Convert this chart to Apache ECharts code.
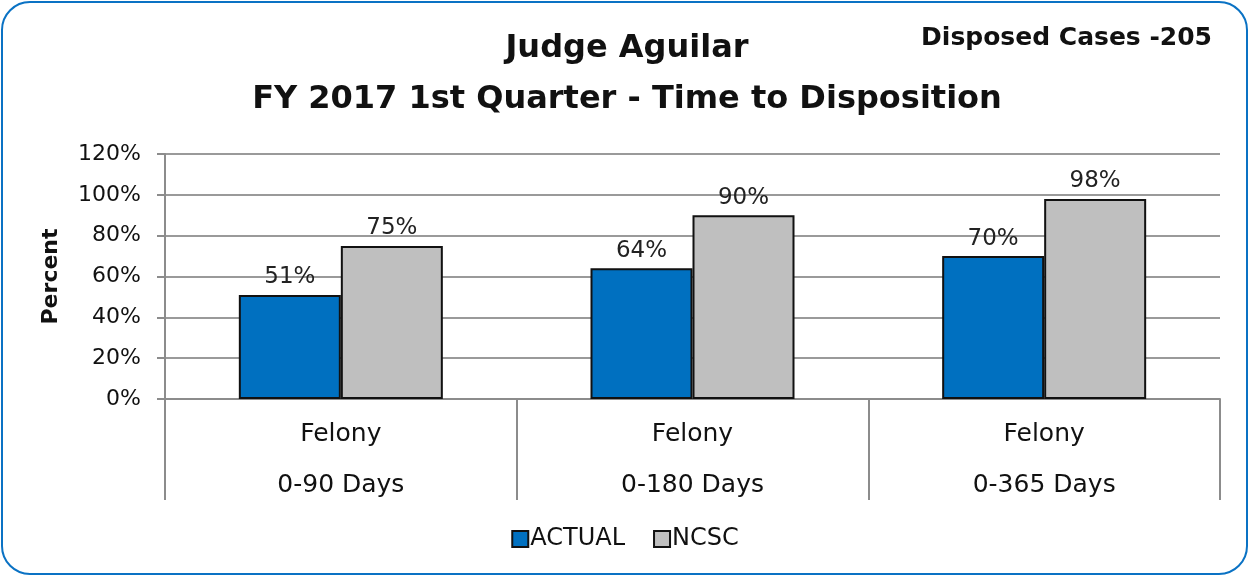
<!DOCTYPE html>
<html>
<head>
<meta charset="utf-8">
<script src="https://cdn.jsdelivr.net/npm/echarts@6/dist/echarts.min.js"></script>
<style>
  html, body { margin: 0; padding: 0; background: #fff; }
  #main { width: 1250px; height: 577px; }
</style>
</head>
<body>
<div id="main"></div>
<script>
// data
var categories = ['Felony\n0-90 Days', 'Felony\n0-180 Days', 'Felony\n0-365 Days'];
var actualValues = [51, 64, 70];
var ncscValues = [75, 90, 98];
var yTicks = [0, 20, 40, 60, 80, 100, 120];

var FONT = '"DejaVu Sans"';
var myChart = echarts.init(document.getElementById('main'));

var option = {
    backgroundColor: '#fff',
    animation: false,
    graphic: [{
        type: 'rect',
        shape: { x: 2, y: 2, width: 1245, height: 572, r: 28 },
        style: { fill: 'none', stroke: '#0A72C4', lineWidth: 2 },
        silent: true
    }, {
        type: 'text',
        style: {
            x: 627, y: 49,
            text: 'Judge Aguilar',
            font: 'bold 32px ' + FONT,
            align: 'center',
            verticalAlign: 'middle',
            fill: '#111'
        }
    }, {
        type: 'text',
        style: {
            x: 627, y: 100,
            text: 'FY 2017 1st Quarter - Time to Disposition',
            font: 'bold 32px ' + FONT,
            align: 'center',
            verticalAlign: 'middle',
            fill: '#111'
        }
    }, {
        type: 'text',
        style: {
            x: 1212, y: 38,
            text: 'Disposed Cases -205',
            font: 'bold 25px ' + FONT,
            align: 'right',
            verticalAlign: 'middle',
            fill: '#111'
        }
    }],
    legend: {
        bottom: 21,
        left: 'center',
        icon: 'rect',
        itemWidth: 16,
        itemHeight: 16,
        itemGap: 28,
        textStyle: { fontFamily: FONT, fontSize: 24, color: '#111', padding: [0, 0, 0, -3] },
        data: ['ACTUAL', 'NCSC']
    },
    grid: { left: 165, right: 30, top: 154, bottom: 178 },
    xAxis: {
        type: 'category',
        data: categories,
        axisLine: { lineStyle: { color: '#8c8c8c', width: 2 } },
        axisTick: { show: true, length: 101, interval: 0, lineStyle: { color: '#8c8c8c', width: 2 } },
        axisLabel: { interval: 0, margin: 10, fontFamily: FONT, fontSize: 25, lineHeight: 51, color: '#111' }
    },
    yAxis: {
        type: 'value',
        min: yTicks[0],
        max: yTicks[yTicks.length - 1],
        interval: 20,
        name: 'Percent',
        nameLocation: 'middle',
        nameGap: 103,
        nameTextStyle: { fontFamily: FONT, fontSize: 22, fontWeight: 'bold', color: '#111' },
        axisLine: { show: true, lineStyle: { color: '#8c8c8c', width: 2 } },
        axisTick: { show: true, length: 8, lineStyle: { color: '#8c8c8c', width: 2 } },
        axisLabel: { formatter: '{value}%', margin: 24, fontFamily: FONT, fontSize: 22, color: '#111' },
        splitLine: { lineStyle: { color: '#9a9a9a', width: 2 } }
    },
    series: [{
        name: 'ACTUAL',
        type: 'bar',
        data: actualValues,
        barWidth: 102,
        barGap: '0%',
        itemStyle: { color: '#0070C0', borderColor: '#111', borderWidth: 2 },
        label: { show: true, position: 'top', distance: 6, formatter: '{c}%', fontFamily: FONT, fontSize: 23, color: '#222' }
    }, {
        name: 'NCSC',
        type: 'bar',
        data: ncscValues,
        barWidth: 102,
        itemStyle: { color: '#BFBFBF', borderColor: '#111', borderWidth: 2 },
        label: { show: true, position: 'top', distance: 6, formatter: '{c}%', fontFamily: FONT, fontSize: 23, color: '#222' }
    }]
};

myChart.setOption(option);
</script>
</body>
</html>
